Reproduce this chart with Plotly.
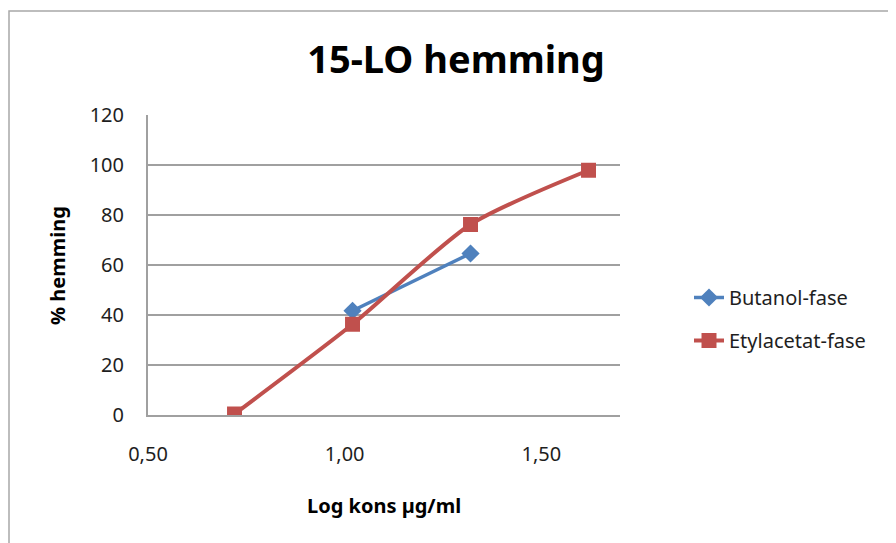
import plotly.graph_objects as go

# Data
butanol_x = [1.02, 1.32]
butanol_y = [41.7, 64.6]
etyl_x = [0.72, 1.02, 1.32, 1.62]
etyl_y = [0.4, 36.3, 76.2, 97.9]

x_tickvals = [0.5, 1.0, 1.5]
x_ticktext = ["0,50", "1,00", "1,50"]
y_tickvals = [0, 20, 40, 60, 80, 100, 120]

FONT = "Noto Sans"
BLUE = "#4F81BD"
RED = "#C0504D"
TXT = "#1e1e1e"

fig = go.Figure()
fig.add_trace(go.Scatter(
    x=butanol_x, y=butanol_y, name="Butanol-fase", mode="lines+markers",
    line=dict(color=BLUE, width=3.5, shape="spline", smoothing=0.7),
    marker=dict(symbol="diamond", size=14, color=BLUE),
    legendgroup="a",
))
fig.add_trace(go.Scatter(
    x=etyl_x, y=etyl_y, name="Etylacetat-fase", mode="lines+markers",
    line=dict(color=RED, width=4, shape="spline", smoothing=0.7),
    marker=dict(symbol="square", size=15, color=RED),
    legendgroup="b",
))

OFF = 8  # page body margin
L, R, T, B = 148, 620, 115, 415   # plot area in reference pixels
W, H = 888, 535
pw, ph = R - L, B - T
ml, mt = L - OFF, T - OFF


def px(xp):
    return (xp - L) / pw


def py(yp):
    return (B - yp) / ph


fig.update_layout(
    width=W, height=H,
    margin=dict(l=ml, r=W - ml - pw, t=mt, b=H - mt - ph, autoexpand=False),
    paper_bgcolor="white", plot_bgcolor="white",
    font=dict(family=FONT, size=20, color=TXT),
    title=dict(text="<b>15-LO hemming</b>", x=(456 - OFF) / W, xanchor="center",
               y=1 - (60 - OFF) / H, yanchor="middle",
               font=dict(family=FONT, size=38, color="#000000")),
    xaxis=dict(range=[0.5, 1.7], tickvals=x_tickvals, ticktext=x_ticktext,
               showgrid=False, zeroline=False, showline=True,
               linecolor="#a0a0a0", linewidth=2, ticks="",
               ticklabelstandoff=20,
               tickfont=dict(size=20, color=TXT)),
    yaxis=dict(range=[0, 120], tickvals=y_tickvals, showgrid=True,
               gridcolor="#a0a0a0", gridwidth=2, zeroline=False,
               showline=True, linecolor="#a0a0a0", linewidth=2, ticks="",
               ticklabelstandoff=18,
               tickfont=dict(size=20, color=TXT)),
    annotations=[
        dict(text="<b>Log kons µg/ml</b>", xref="paper", yref="paper",
             x=px(384), y=py(506), xanchor="center", yanchor="middle",
             showarrow=False, font=dict(size=20, color="#000000")),
        dict(text="<b>% hemming</b>", xref="paper", yref="paper",
             x=px(57), y=py(266), xanchor="center", yanchor="middle",
             textangle=-90, showarrow=False, font=dict(size=20, color="#000000")),
    ],
    legend=dict(x=px(689), xanchor="left", y=py(319), yanchor="middle",
                font=dict(size=20, color=TXT), tracegroupgap=14,
                bgcolor="rgba(0,0,0,0)"),
    shapes=[dict(type="rect", xref="paper", yref="paper",
                 x0=px(9), x1=px(W + 40),
                 y0=py(H + 40), y1=py(11),
                 line=dict(color="#a8a8a8", width=1.5), layer="below")],
)

fig.write_html("out.html")
